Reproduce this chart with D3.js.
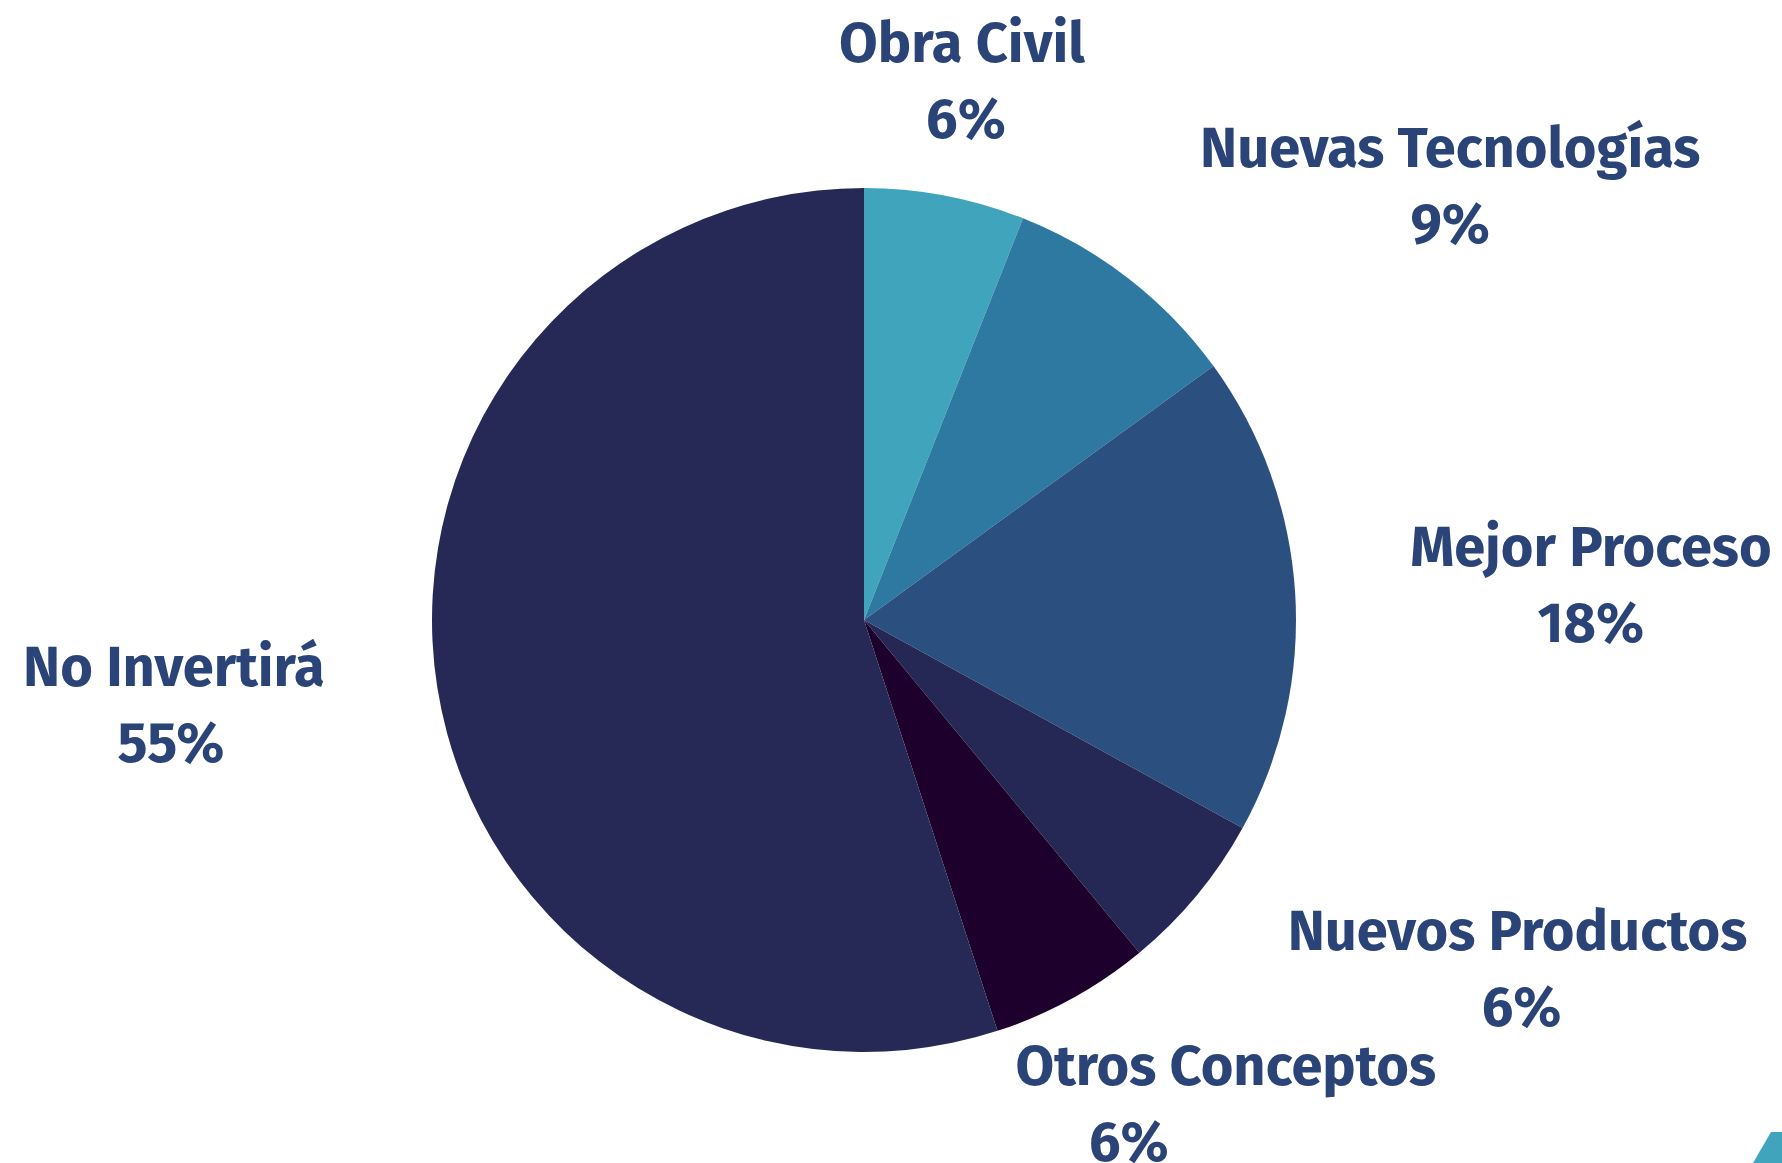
<!DOCTYPE html>
<html>
<head>
<meta charset="utf-8">
<script src="https://cdn.jsdelivr.net/npm/d3@7"></script>
<style>
  html, body { margin: 0; padding: 0; background: #ffffff; }
  svg { display: block; }
  .slice-label { font-family: "Fira Sans", Lato, "Open Sans", sans-serif; font-weight: 700; fill: #2b4478; }
</style>
</head>
<body>
<svg id="chart"></svg>
<script>
const categories = ["Obra Civil", "Nuevas Tecnologías", "Mejor Proceso", "Nuevos Productos", "Otros Conceptos", "No Invertirá"];
const shares = [6, 9, 18, 6, 6, 55];
const sliceColors = ["#41a4bd", "#2e79a1", "#2b507f", "#252855", "#1d002b", "#262956"];

// nudges for each label, away from the plain outer centroid (dx, dy, and x shift of the % line)
const labelNudge = [
  [-7, 30, 4],
  [243, 27, 0],
  [168, 19, 0],
  [222, 11, 4],
  [92, 12, -97],
  [-137, 16, -3]
];

const width = 1782;
const height = 1163;
const cx = 864, cy = 620, radius = 432;

const svg = d3.select("#chart")
  .attr("width", width)
  .attr("height", height)
  .attr("viewBox", `0 0 ${width} ${height}`);

const data = categories.map((name, i) => ({ name, value: shares[i], color: sliceColors[i], nudge: labelNudge[i] }));

const pie = d3.pie().sort(null).value(d => d.value);
const arc = d3.arc().innerRadius(0).outerRadius(radius);
const labelArc = d3.arc().innerRadius(560).outerRadius(560);

const g = svg.append("g").attr("transform", `translate(${cx},${cy})`);
const arcs = pie(data);

g.selectAll("path.slice")
  .data(arcs)
  .enter()
  .append("path")
  .attr("class", "slice")
  .attr("d", arc)
  .attr("fill", d => d.data.color);

const fmt = d3.format(".0f");
const labels = g.selectAll("text.slice-label")
  .data(arcs)
  .enter()
  .append("text")
  .attr("class", "slice-label")
  .attr("text-anchor", "middle")
  .attr("font-size", 56)
  .attr("transform", d => {
    const [x, y] = labelArc.centroid(d);
    return `translate(${x + d.data.nudge[0]},${y + d.data.nudge[1]})`;
  });

labels.append("tspan")
  .attr("x", 0)
  .attr("y", -38)
  .text(d => d.data.name);

labels.append("tspan")
  .attr("x", d => d.data.nudge[2])
  .attr("y", 38)
  .text(d => fmt(d.data.value) + "%");

// teal corner accent
svg.append("path")
  .attr("d", "M1771,1132 L1782,1132 L1782,1163 L1753,1163 Z")
  .attr("fill", "#41a4bd");
</script>
</body>
</html>
